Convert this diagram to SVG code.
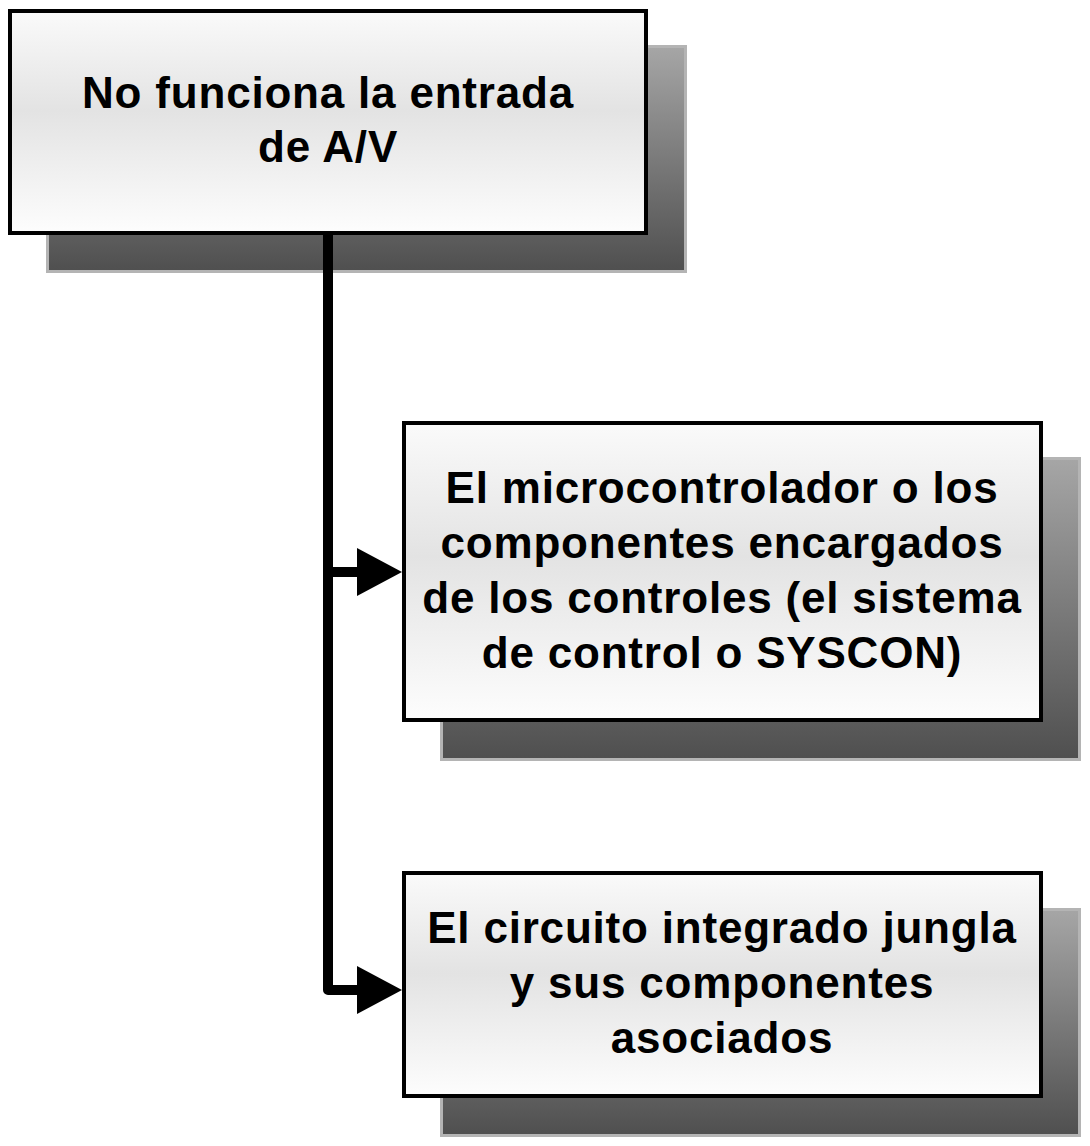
<svg xmlns="http://www.w3.org/2000/svg" width="1090" height="1146" viewBox="0 0 1090 1146">
<defs>
<linearGradient id="fillG" x1="0" y1="0" x2="0" y2="1">
<stop offset="0" stop-color="#fafafa"/>
<stop offset="0.45" stop-color="#e3e3e3"/>
<stop offset="1" stop-color="#fdfdfd"/>
</linearGradient>
<linearGradient id="shG" x1="0" y1="0" x2="0" y2="1">
<stop offset="0" stop-color="#a6a6a6"/>
<stop offset="1" stop-color="#4f4f4f"/>
</linearGradient>
</defs>
<style>
.sh{fill:url(#shG);stroke:#b4b4b4;stroke-width:3}
.bx{fill:url(#fillG);stroke:#000;stroke-width:4}
.t{font-family:"Liberation Sans",Arial,sans-serif;font-weight:bold;font-size:44px;fill:#000;text-anchor:middle;letter-spacing:0.8px}
.c{fill:none;stroke:#000;stroke-width:10;stroke-linejoin:round}
</style>
<g id="node1">
<rect class="sh" x="47.5" y="46.5" width="638" height="225"/>
<rect class="bx" x="10" y="11" width="636" height="222"/>
<text class="t" x="328" y="108">No funciona la entrada</text>
<text class="t" x="328" y="162">de A/V</text>
</g>
<g id="node2">
<rect class="sh" x="441.5" y="458.5" width="638" height="301"/>
<rect class="bx" x="404" y="423" width="637" height="297"/>
<text class="t" x="722" y="503">El microcontrolador o los</text>
<text class="t" x="722" y="558">componentes encargados</text>
<text class="t" x="722" y="613">de los controles (el sistema</text>
<text class="t" x="722" y="668">de control o SYSCON)</text>
</g>
<g id="node3">
<rect class="sh" x="441.5" y="909.5" width="638" height="226"/>
<rect class="bx" x="404" y="873" width="637" height="223"/>
<text class="t" x="722" y="943">El circuito integrado jungla</text>
<text class="t" x="722" y="998">y sus componentes</text>
<text class="t" x="722" y="1053">asociados</text>
</g>
<g id="connectors">
<path class="c" d="M328,235 L328,990 L360,990"/>
<path d="M328,572 L360,572" stroke="#000" stroke-width="10" fill="none"/>
<path d="M357,548 L402,572 L357,596 Z" fill="#000"/>
<path d="M357,966 L402,990 L357,1014 Z" fill="#000"/>
</g>
</svg>
